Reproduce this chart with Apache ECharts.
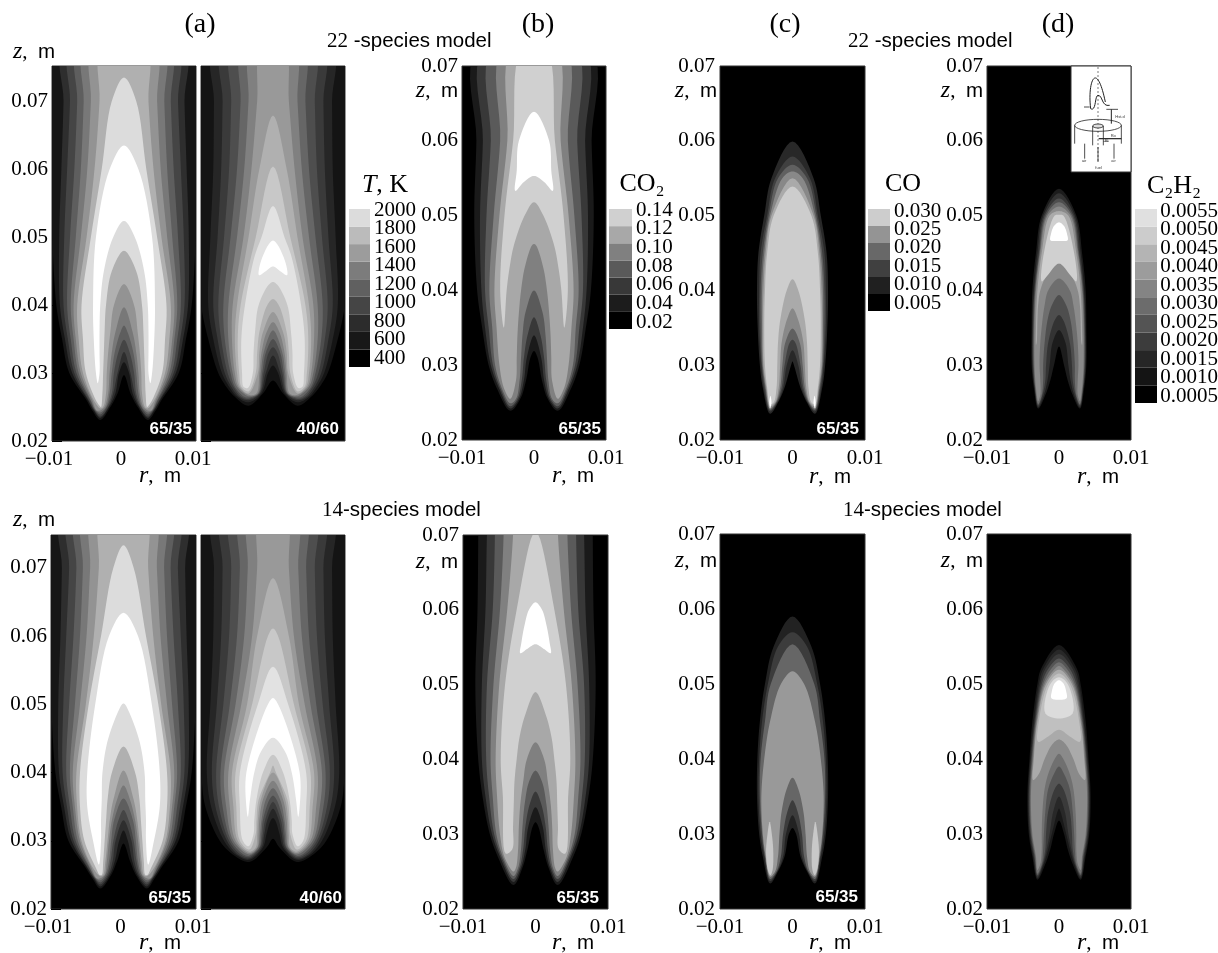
<!DOCTYPE html>
<html><head><meta charset="utf-8">
<style>html,body{margin:0;padding:0;background:#fff}#c{width:1218px;height:953px}</style>
<script src="https://cdn.jsdelivr.net/npm/echarts@6/dist/echarts.min.js"></script>
</head><body><div id="c"></div>
<script>
const n = null;
// All contours are half outlines in millimetres: [closed-top z, outer radii, lip [r,z], inner radii, inner apex z]
const tempPaletteA = ['#161616','#2e2e2e','#454545','#5e5e5e','#787878','#939393','#b0b0b0','#dcdcdc','#ffffff'];
const tempPaletteB = ['#141414','#262626','#3a3a3a','#4e4e4e','#666666','#808080','#999999','#b0b0b0','#c8c8c8','#e2e2e2','#ffffff'];
const co2Palette = ['#1a1a1a','#383838','#5a5a5a','#808080','#a8a8a8','#d0d0d0','#ffffff'];

const T22a_oz = [78,70,60,50,40,35,30,26,24.5];
const T22a_iz = [25,27,30,33,36,40,45,50];
const T22a = [
 [n,[11,11,10.6,10,9.4,8.6,7.6,5.2,4.4],[3.3,23.1],[1.9,.9],29.7],
 [n,[8.3,8.4,8.7,9,8.9,8.2,7.2,5,4.2],[3.3,23.4],[2.1,1.2,.7],31.6],
 [n,[7.3,7.5,7.9,8.3,8.4,7.8,6.9,4.9,4.1],[3.3,23.6],[2.2,1.5,.9],33.1],
 [n,[6.3,6.5,6.9,7.5,7.9,7.4,6.6,4.7,4],[3.3,23.9],[2.4,1.7,1.4,.8],34.9],
 [n,[5.4,5.6,6,6.7,7.4,7,6.3,4.6,3.9],[3.3,24.2],[2.5,2,1.7,1.3,.5],37],
 [n,[4.3,4.6,5.1,6,7,6.7,6,4.4,3.8],[3.3,24.5],[2.7,2.2,2,1.7,1.2],39.7],
 [n,[3.1,3.4,4.1,5.2,6.5,6.3,5.7,4.2],[3.3,24.8],[2.9,2.5,2.4,2.2,1.9,1.4],43.1],
 [73.5,[n,1.7,3.1,4.6,5.9,5.7,5.3,3.9],[3.4,25.2],[3.2,3,2.9,2.8,2.7,2.5,1.7],48],
 [63.5,[n,n,2,3.9,4.3,4.2,3.9,n],[3.65,28.5],[n,n,3.4,3.4,3.4,3.3,2.8,1.5],52.4]
];
const T22b_oz = [78,70,60,50,47,40,35,30,28,26.5];
const T22b_iz = [27,30,33,36,40,43,45];
const T22b = [
 [n,[11,11,11,11,n,10,9,7.6,6.5,5.3],[3.4,25.2],[1.4],28.9],
 [n,[8.1,8.2,8.3,8.7,n,9,8.3,7.1,6.1,5],[3.4,25.7],[1.6,.7],31.1],
 [n,[6.9,7,7.2,7.7,n,8.3,7.7,6.7,5.8,4.7],[3.4,26],[1.8,1],32.6],
 [n,[5.6,5.8,6.1,6.8,n,7.6,7.2,6.3,5.5,4.4],[3.4,26.2],[1.9,1.3,.6],33.8],
 [n,[4.2,4.5,5,5.9,n,6.9,6.7,5.9,5.3,4],[3.4,26.4],[2,1.5,1],35],
 [n,[3,3.4,4,5,n,6.2,6.2,5.6,5],[3.4,26.6],[2.1,1.7,1.3],36.3],
 [n,[1.6,2.2,3,4.1,n,5.6,5.7,5.3,4.8],[3.4,26.8],[2.3,1.9,1.6,.9],37.5],
 [67.9,[n,n,1.9,3.4,n,5,5.3,5,4.6],[3.4,27],[n,2.1,1.9,1.4],39],
 [60.4,[n,n,n,2.4,n,4.5,4.9,4.7,4.4],[3.4,27.3],[n,2.4,2.2,1.9,.8],40.9],
 [54.6,[n,n,n,1.6,2.6,3.9,4.4,4.3,4.1],[3.5,27.8],[n,2.8,2.7,2.5,2,.6],43.4],
 [49.5,[n,n,n,n,1.5],[1.95,44.4],[n,n,n,n,n,n,1],45.7]
];
const T14a_oz = [78,70,60,50,40,35,30,26,24.5];
const T14a_iz = [25,27,30,33,36,40,45,50];
const T14a = [
 [n,[11,11,10.6,10,9.4,8.6,7.6,5.2,4.3],[3.2,23],[1.7,.9],29.6],
 [n,[8.4,8.5,8.7,9,8.9,8.2,7.2,5,4.1],[3.2,23.3],[1.9,1.2,.6],31.5],
 [n,[7.4,7.5,7.9,8.3,8.4,7.8,6.9,4.9,4],[3.2,23.6],[2.1,1.5,1.1],33],
 [n,[6.4,6.5,6.9,7.5,7.9,7.4,6.6,4.7,3.9],[3.2,23.9],[2.3,1.8,1.4,.7],34.5],
 [n,[5.4,5.6,6,6.7,7.4,7,6.3,4.6,3.8],[3.2,24.2],[2.5,2,1.7,1.3],36.2],
 [n,[4.2,4.6,5.1,6,7,6.7,6,4.4,3.7],[3.2,24.5],[2.6,2.3,2,1.6,.9],38.1],
 [n,[3,3.4,4.1,5.2,6.5,6.4,5.8,4.2],[3.2,24.8],[2.8,2.5,2.2,1.9,1.4],40.3],
 [73.3,[n,1.4,3.1,4.8,6,6,5.4,3.8],[3.3,25],[3,2.8,2.6,2.4,2.2,1.6],43.8],
 [63.4,[n,n,2,3.9,5,5,4.2,n],[3.4,26.5],[n,n,3.1,3.1,3,2.9,2.1,.2],50.1]
];
const T14b_oz = [78,70,60,50,40,35,30,28];
const T14b_iz = [29,31,33,36,40,43];
const T14b = [
 [n,[11,11,11,11,10,9.4,7.4,5.6],[3.3,26.9],[.9],30.3],
 [n,[8.1,8.2,8.3,8.7,9.2,8.6,6.8,5.2],[3.3,27.2],[1.4,.9,.3],33.3],
 [n,[6.9,7,7.2,7.8,8.5,8,6.4,4.9],[3.3,27.4],[1.6,1.2,.8],34.7],
 [n,[5.7,5.8,6.1,6.9,7.9,7.5,6.1,4.5],[3.3,27.6],[1.8,1.4,1.1],35.7],
 [n,[4.4,4.6,5,6,7.3,7,5.8,4.1],[3.3,27.8],[1.9,1.6,1.4,.5],36.6],
 [n,[3.2,3.5,4,5.2,6.8,6.5,5.5],[3.3,28],[2.1,1.8,1.6,1],37.7],
 [n,[1.8,2.2,2.9,4.4,6.2,6,5.2],[3.3,28.2],[2.2,2,1.9,1.4],38.8],
 [68.5,[n,n,2.2,3.6,5.7,5.5,4.9],[3.3,28.4],[2.4,2.2,2.1,1.7],40],
 [61.1,[n,n,.7,2.9,5.2,5.1,4.6],[3.3,28.7],[n,2.4,2.3,2,.4],41],
 [55.5,[n,n,n,2.1,4.6,4.6,4.2],[3.4,29.2],[n,2.7,2.6,2.3,1.4],42.6],
 [50.9,[n,n,n,.7,3.7,3.7,n],[3.5,33.5],[n,n,n,3.2,2.6,1.7],45.1]
];
const CO2a_oz = [72,60,56,50,40,35,30,27];
const CO2a_iz = [25.5,28,31,34,37,40,43,46,50,54.5];
const CO2a = [
 [n,[7.9,8,n,8.3,7.9,7.2,6.3,5.2],[3.3,23.9],[1.9,1.1,.5],31.9],
 [n,[7,7.1,n,7.5,7.3,6.8,6,4.9],[3.3,24.2],[2.1,1.4,1],34],
 [n,[5.8,6,n,6.6,6.8,6.3,5.7,4.7],[3.3,24.5],[2.3,1.7,1.4,.9],36.4],
 [n,[4.4,4.7,n,5.6,6.2,5.8,5.4,4.5],[3.3,24.9],[2.5,2,1.8,1.6,1.2],40],
 [n,[3.1,3.7,n,4.8,5.5,5.2,4.8,4.2],[3.3,25.5],[n,2.5,2.4,2.3,2.1,1.8,1.3,.3],46.2],
 [n,[1.7,2.9,n,4.1,4.7,n,n,n],[4.2,35],[n,n,n,n,n,3.8,3.4,2.8,1.3],51.8],
 [63.9,[n,2.1,2.4],[2.6,53.3],[n,n,n,n,n,n,n,n,n,1.4],55.3]
];
const CO2b_oz = [72,70,60,50,40,35,30,27];
const CO2b_iz = [25.5,28,31,34,37,40,43,46];
const CO2b = [
 [n,[7.9,7.9,8,8.3,7.9,7.3,6.3,5.2],[3.05,23.2],[1.8,1.1,.4],31.6],
 [n,[6.6,6.7,6.9,7.4,7.4,6.9,6,4.9],[3.05,23.6],[2,1.4,1],33.6],
 [n,[5.6,5.6,5.9,6.7,6.8,6.4,5.7,4.7],[3.05,24],[2.2,1.7,1.4,.8],35.7],
 [n,[4.4,4.4,4.9,5.8,6.2,5.9,5.4,4.5],[3.05,24.4],[2.4,2,1.8,1.5,.9],38.5],
 [n,[3.1,3.1,3.9,5,5.5,5.3,4.9,4.3],[3.05,25],[2.7,2.4,2.3,2.1,1.7,1.2],42.3],
 [70.3,[n,.4,2.6,4.2,4.8,4.5,n,n],[4.1,27.4],[n,3.2,3.1,3,2.9,2.6,2.2,1.4],49]
];
const CO2b_cap = [[0,61],[.9,60],[1.5,58],[1.95,55.6],[2.1,54.2],[1.1,54.8],[0,55.4]];
const COa_palette = ['#282828','#404040','#606060','#888888','#aaaaaa','#cdcdcd'];
const COa_oz = [55,50,45,40,35,30,27];
const COa_iz = [25,27,30,33,36,40];
const COa = [
 [59.9,[2.9,3.9,4.7,4.9,4.8,4.5,4.1],[3.1,23.5],[2,1.1,.2],30.5],
 [57.9,[2.4,3.5,4.4,4.6,4.6,4.3,3.95],[3.1,23.8],[2.1,1.3,.8],32],
 [56.8,[2,3.3,4.1,4.4,4.4,4.2,3.8],[3.1,24],[2.2,1.5,1.1,.4],33.4],
 [55.9,[1.4,3.1,3.9,4.2,4.2,4.1,3.7],[3.1,24.2],[2.3,1.7,1.4,1],34.9],
 [55,[n,2.9,3.7,4,4.1,4,3.6],[3.1,24.5],[2.4,1.9,1.7,1.5,.8],37.6],
 [53.9,[n,2.6,3.5,3.8,3.9,3.8,3.5],[3.1,24.8],[2.6,2.2,2.1,2,1.7,.8],41.5]
];
const COa_tip = [[3.05,25.9],[3.2,25],[3.1,24.2],[2.9,25]];
const COb_palette = ['#222222','#3c3c3c','#666666','#999999'];
const COb_oz = [55,50,45,40,35,30,27];
const COb_iz = [25,27,30,33,36];
const COb = [
 [59,[2.6,3.8,4.5,4.85,4.9,4.6,4.1],[3.1,23.4],[2,1.1,.5],30.8],
 [56.9,[2,3.4,4.2,4.6,4.7,4.4,3.9],[3.1,23.7],[2.1,1.3,.9],32.5],
 [55.3,[n,3,3.8,4.4,4.5,4.2,3.8],[3.1,24],[2.2,1.6,1.3,.7],34.5],
 [51.7,[n,1.6,3.1,3.9,4.3,4.1,3.7],[3.1,24.3],[2.4,2,1.8,1.5,.8],37.5]
];
const COb_sliver = [[3.15,31.6],[3.45,30],[3.65,27.5],[3.4,25.2],[3.05,24.5],[2.75,25.2],[2.65,27.5],[2.85,30]];
const C2a_palette = ['#1c1c1c','#333333','#4e4e4e','#6e6e6e','#8a8a8a','#aaaaaa','#d0d0d0'];
const C2a_oz = [50,45,40,35,30,27];
const C2a_iz = [26,28,30,33,36,38,40,42];
const C2a = [
 [53.6,[2.4,3.2,3.7,3.8,3.8,3.5],[2.9,24.2],[1.9,1.2,.7],32.5],
 [53,[2.2,3,3.5,3.7,3.7,3.4],[2.9,24.4],[2.1,1.6,1.3,.9],34.7],
 [52.3,[2,2.8,3.4,3.6,3.6,3.35],[2.9,24.6],[2.3,1.9,1.8,1.5,.6],36.7],
 [51.8,[1.8,2.7,3.3,3.5,3.5,3.3],[2.9,24.8],[2.4,2.2,2.2,2,1.6,1],39.4],
 [51.2,[1.6,2.6,3.2,3.4,3.4,3.2],[2.9,25.2],[2.6,2.6,2.7,2.6,2.3,2,1.5],41.6],
 [50.6,[1.3,2.4,3,3.2],[3.2,32.7],[n,n,n,3.1,3,2.9,2.6,1.7],43.6],
 [50.1,[.6,2.1],[2.4,41.2],[n,n,n,n,n,n,n,1.6],43.6]
];
const C2a_cap = [[0,49.1],[.7,48.6],[1.1,47.6],[1.2,46.7],[.6,46.6],[0,46.6]];
const C2b_palette = ['#181818','#282828','#3a3a3a','#555555','#707070','#8a8a8a','#aaaaaa','#c0c0c0','#dcdcdc'];
const C2b_oz = [52,50,45,40,35,30,27];
const C2b_iz = [26,28,30,33,36,38,40,42,43];
const C2b = [
 [55.2,[2.5,3,3.7,4.1,4.4,4.2,3.7],[3,23.9],[1.9,1.2,.7],31.8],
 [54.6,[2.2,2.8,3.5,4,4.3,4.1,3.6],[3,24.1],[2.1,1.5,1,.2],33.4],
 [54,[1.9,2.6,3.4,3.9,4.2,4,3.5],[3,24.3],[2.2,1.7,1.3,.8],35],
 [53.4,[1.5,2.4,3.3,3.8,4.1,3.9,3.4],[3,24.5],[2.3,1.9,1.8,1.5,.6],36.7],
 [52.9,[1.1,2.2,3.2,3.7,4,3.8,3.3],[3,24.7],[2.4,2.2,2.1,1.9,1.5,.7],39],
 [52.4,[.6,2,3.1,3.6,3.9,3.7,3.2],[3,25.2],[2.6,2.4,2.4,2.3,2,1.5,.6],40.7],
 [51.9,[n,1.8,3,3.5],[3.6,37.2],[n,n,n,n,n,2.8,2,.9],42.6],
 [51.4,[n,1.5,2.8],[2.9,42.3],[n,n,n,n,n,n,n,n,1.5],43.9],
 [50.9,[n,1.2],[1.9,46.1],[],45.4]
];
const C2b_cap = [[0,50.5],[.6,50.1],[1,49],[1.05,48.1],[0,47.9]];

const zTicks = ['0.02','0.03','0.04','0.05','0.06','0.07'];
const tempLabels = ['400','600','800','1000','1200','1400','1600','1800','2000'];
const tempColors = ['#000000','#181818','#2c2c2c','#454545','#606060','#7c7c7c','#9c9c9c','#bbbbbb','#dcdcdc'];
const co2Labels = ['0.02','0.04','0.06','0.08','0.10','0.12','0.14'];
const co2Colors = ['#000000','#1c1c1c','#383838','#5a5a5a','#808080','#a8a8a8','#d0d0d0'];
const coLabels = ['0.005','0.010','0.015','0.020','0.025','0.030'];
const coColors = ['#000000','#202020','#404040','#686868','#949494','#cdcdcd'];
const c2Labels = ['0.0005','0.0010','0.0015','0.0020','0.0025','0.0030','0.0035','0.0040','0.0045','0.0050','0.0055'];
const c2Colors = ['#000000','#141414','#262626','#3c3c3c','#545454','#6c6c6c','#848484','#9c9c9c','#b4b4b4','#cccccc','#e0e0e0'];

const SERIF='"Liberation Serif",serif', SANS='"Liberation Sans",sans-serif';

function outline(level, oz, iz){
  const [top,o,lip,inn,apex]=level; const p=[];
  if(top!=null) p.push([0,top]);
  o.forEach((r,k)=>{ if(r!=null) p.push([r,oz[k]]); });
  p.push(lip);
  inn.forEach((r,k)=>{ if(r!=null) p.push([r,iz[k]]); });
  p.push([0,apex]);
  return p;
}
function mirrored(half){
  const out=half.slice();
  for(let i=half.length-1;i>=0;i--){ if(half[i][0]!==0) out.push([-half[i][0],half[i][1]]); }
  return out;
}
function spline(P){ // centripetal Catmull-Rom through pixel points (closed)
  const N=P.length, res=[], T=(a,b,t)=>t+Math.max(1e-3,Math.pow(Math.hypot(b[0]-a[0],b[1]-a[1]),.5));
  for(let i=0;i<N;i++){
    const p0=P[(i-1+N)%N],p1=P[i],p2=P[(i+1)%N],p3=P[(i+2)%N];
    const t0=0,t1=T(p0,p1,t0),t2=T(p1,p2,t1),t3=T(p2,p3,t2);
    for(let s=0;s<8;s++){
      const t=t1+(t2-t1)*s/8;
      const L=(a,b,ta,tb)=>[(tb-t)/(tb-ta)*a[0]+(t-ta)/(tb-ta)*b[0],(tb-t)/(tb-ta)*a[1]+(t-ta)/(tb-ta)*b[1]];
      const A1=L(p0,p1,t0,t1),A2=L(p1,p2,t1,t2),A3=L(p2,p3,t2,t3);
      const B1=L(A1,A2,t0,t2),B2=L(A2,A3,t1,t3);
      res.push(L(B1,B2,t1,t2));
    }
  }
  return res;
}

const grids=[],xAxes=[],yAxes=[],series=[];
function panel(cfg){
  const idx=grids.length;
  grids.push({left:cfg.x0,width:cfg.x1-cfg.x0,top:cfg.y0,height:cfg.y1-cfg.y0,show:true,backgroundColor:'#000',borderColor:'#333',borderWidth:1,containLabel:false});
  xAxes.push({type:'value',gridIndex:idx,min:-0.01,max:0.01,interval:0.01,
    axisLine:{show:false,onZero:false},axisTick:{show:false},splitLine:{show:false},
    axisLabel:{show:cfg.xl!==false,margin:8,padding:cfg.xpad||0,fontFamily:SERIF,fontSize:21,color:'#000',hideOverlap:false,showMinLabel:true,showMaxLabel:true,
      formatter:v=>Math.abs(v)<1e-9?'0':(v<0?'\u22120.01':'0.01')}});
  yAxes.push({type:'value',gridIndex:idx,min:0.02,max:cfg.zmax,interval:0.01,
    axisLine:{show:false,onZero:false},splitLine:{show:false},
    axisTick:{show:cfg.ticks===true,inside:true,length:10,lineStyle:{color:'#000',width:1}},
    axisLabel:{show:cfg.yl!==false,margin:cfg.ym||4,fontFamily:SERIF,fontSize:21,color:'#000',showMaxLabel:cfg.zmax<=0.07,
      formatter:v=>{const s=v.toFixed(2);return zTicks.includes(s)?s:'';}}});
  const shapes=cfg.levels.map((lv,i)=>({color:cfg.colors[i],pts:mirrored(outline(lv,cfg.oz,cfg.iz))}));
  (cfg.extras||[]).forEach(e=>{ shapes.push({color:e[0],pts:mirrored(e[1])}); });
  (cfg.sides||[]).forEach(e=>{
    shapes.push({color:e[0],pts:e[1]});
    shapes.push({color:e[0],pts:e[1].map(p=>[-p[0],p[1]])});
  });
  series.push({type:'custom',xAxisIndex:idx,yAxisIndex:idx,coordinateSystem:'cartesian2d',clip:true,silent:true,
    data:shapes.map((s,i)=>[i]),
    renderItem:(params,api)=>{
      const s=shapes[params.dataIndex];
      const px=s.pts.map(p=>api.coord([p[0]/1000,p[1]/1000]));
      return {type:'polygon',shape:{points:spline(px)},style:{fill:s.color}};
    }});
}
function colorbar(x0,x1,y0,y1,l0,l1,labels,colors){
  let idx=grids.length;
  grids.push({left:x0,width:x1-x0,top:y0,height:y1-y0});
  xAxes.push({type:'value',gridIndex:idx,min:0,max:1,show:false});
  yAxes.push({type:'category',gridIndex:idx,data:labels,axisLine:{show:false},axisTick:{show:false},axisLabel:{show:false}});
  series.push({type:'bar',xAxisIndex:idx,yAxisIndex:idx,barWidth:'100%',silent:true,
    data:labels.map((_,i)=>({value:1,itemStyle:{color:colors[i]}}))});
  idx=grids.length;
  const step=(l1-l0)/(labels.length-1);
  grids.push({left:x1-1,width:1,top:l0-step/2,height:l1-l0+step});
  xAxes.push({type:'value',gridIndex:idx,min:0,max:1,show:false});
  yAxes.push({type:'category',gridIndex:idx,position:'right',data:labels,axisLine:{show:false},axisTick:{show:false},
    axisLabel:{margin:4,interval:0,fontFamily:SERIF,fontSize:21,color:'#000'}});
}

panel({x0:52,x1:196,y0:66,y1:441,zmax:0.0752,levels:T22a,colors:tempPaletteA,oz:T22a_oz,iz:T22a_iz,ticks:true,xpad:[0,6,0,0]});
panel({x0:201,x1:345,y0:66,y1:441,zmax:0.0752,levels:T22b,colors:tempPaletteB,oz:T22b_oz,iz:T22b_iz,xl:false,yl:false,ticks:true});
panel({x0:462,x1:606,y0:66,y1:440,zmax:0.07,levels:CO2a,colors:co2Palette,oz:CO2a_oz,iz:CO2a_iz});
panel({x0:720,x1:865,y0:66,y1:440,zmax:0.07,levels:COa,colors:COa_palette,oz:COa_oz,iz:COa_iz,ym:5,sides:[['#ffffff',COa_tip]]});
panel({x0:987,x1:1131,y0:66,y1:440,zmax:0.07,levels:C2a,colors:C2a_palette,oz:C2a_oz,iz:C2a_iz,extras:[['#ffffff',C2a_cap]]});
panel({x0:51,x1:196,y0:535,y1:909,zmax:0.0748,levels:T14a,colors:tempPaletteA,oz:T14a_oz,iz:T14a_iz,ticks:true,xpad:[0,6,0,0]});
panel({x0:201,x1:345,y0:535,y1:909,zmax:0.0748,levels:T14b,colors:tempPaletteB,oz:T14b_oz,iz:T14b_iz,xl:false,yl:false,ticks:true});
panel({x0:463,x1:608,y0:535,y1:909,zmax:0.07,levels:CO2b,colors:co2Palette,oz:CO2b_oz,iz:CO2b_iz,extras:[['#ffffff',CO2b_cap]]});
panel({x0:720,x1:865,y0:534,y1:909,zmax:0.07,levels:COb,colors:COb_palette,oz:COb_oz,iz:COb_iz,ym:5,sides:[['#c8c8c8',COb_sliver]]});
panel({x0:987,x1:1131,y0:534,y1:909,zmax:0.07,levels:C2b,colors:C2b_palette,oz:C2b_oz,iz:C2b_iz,extras:[['#ffffff',C2b_cap]]});

colorbar(349,370,209,367,210,358,tempLabels,tempColors);
colorbar(609,632,209,329,210,322,co2Labels,co2Colors);
colorbar(868,890,209,311,211,303,coLabels,coColors);
colorbar(1135,1157,209,403,211,396,c2Labels,c2Colors);

const rich={
  i:{fontFamily:SERIF,fontStyle:'italic',fontSize:24,fill:'#000',color:'#000'},
  t:{fontFamily:SANS,fontSize:20.5,fill:'#000',color:'#000'},
  n:{fontFamily:SERIF,fontSize:21,fill:'#000',color:'#000'},
  I:{fontFamily:SERIF,fontStyle:'italic',fontSize:26,fill:'#000',color:'#000'},
  N:{fontFamily:SERIF,fontSize:26,fill:'#000',color:'#000'}
};
function T(x,y,text,align,extra){
  return {type:'text',x:x,y:y,silent:true,style:Object.assign({text:text,textAlign:align||'center',textVerticalAlign:'middle',rich:rich,fill:'#000'},extra||{})};
}
const zLabel='{i|z}{n|,\u00a0\u00a0}{t|m}', rLabel='{i|r}{n|,\u00a0\u00a0}{t|m}';
const graphics=[
  T(200,25,'(a)','center',{font:'28px '+SERIF}),T(538,25,'(b)','center',{font:'28px '+SERIF}),
  T(785,25,'(c)','center',{font:'28px '+SERIF}),T(1058,25,'(d)','center',{font:'28px '+SERIF}),
  T(327,41,'{n|22}{t|\u00a0-species model}','left'),T(848,41,'{n|22}{t|\u00a0-species model}','left'),
  T(322,510,'{n|14}{t|-species model}','left'),T(843,510,'{n|14}{t|-species model}','left'),
  T(13,52,zLabel,'left'),T(13,520,zLabel,'left'),
  T(458,91,zLabel,'right'),T(717,91,zLabel,'right'),T(983,91,zLabel,'right'),
  T(458,562,zLabel,'right'),T(717,561,zLabel,'right'),T(983,561,zLabel,'right'),
  T(160,476,rLabel),T(573,476,rLabel),T(830,477,rLabel),T(1098,477,rLabel),
  T(160,943,rLabel),T(573,943,rLabel),T(830,943,rLabel),T(1098,943,rLabel),
  T(385,185,'{I|T}{N|,\u00a0K}'),T(642,184,'{N|CO\u2082}'),T(903,184,'{N|CO}'),T(1174,186,'{N|C\u2082H\u2082}')
];
[[192,429],[339,429],[601,429],[859,429],[191,898],[342,898],[599,898],[858,897]].forEach((p,i)=>{
  graphics.push(T(p[0],p[1],i===1||i===5?'40/60':'65/35','right',{font:'bold 17px '+SANS,fill:'#fff'}));
});
// small schematic inset in panel (d)
const X=v=>1068+v/3,Y=v=>62+v/3,L=(a,b,c,d,w,dash)=>({type:'line',silent:true,shape:{x1:X(a),y1:Y(b),x2:X(c),y2:Y(d)},style:{stroke:'#222',lineWidth:w||0.8,lineDash:dash||null}});
const inset=[
  {type:'rect',silent:true,shape:{x:1071,y:66,width:60,height:106},style:{fill:'#fff',stroke:'#333',lineWidth:1}},
  L(90,15,90,300,.6,[2,2]),
  {type:'bezierCurve',silent:true,shape:{x1:X(68),y1:Y(140),cpx1:X(58),cpy1:Y(60),cpx2:X(85),cpy2:Y(-10),x2:X(112),y2:Y(120)},style:{stroke:'#222',fill:null,lineWidth:1}},
  {type:'bezierCurve',silent:true,shape:{x1:X(68),y1:Y(140),cpx1:X(85),cpy1:Y(150),cpx2:X(80),cpy2:Y(100),x2:X(90),y2:Y(100)},style:{stroke:'#222',fill:null,lineWidth:1}},
  {type:'bezierCurve',silent:true,shape:{x1:X(90),y1:Y(100),cpx1:X(105),cpy1:Y(100),cpx2:X(100),cpy2:Y(135),x2:X(125),y2:Y(130)},style:{stroke:'#222',fill:null,lineWidth:1}},
  L(48,135,65,135),L(115,142,150,142),L(130,142,130,185,1),
  {type:'ellipse',silent:true,shape:{cx:X(90),cy:Y(190),rx:70/3,ry:18/3},style:{stroke:'#222',fill:null,lineWidth:.8}},
  {type:'ellipse',silent:true,shape:{cx:X(90),cy:Y(192),rx:16/3,ry:6/3},style:{stroke:'#222',fill:'#ddd',lineWidth:.8}},
  L(20,190,20,245),L(160,190,160,245),L(74,192,74,250),L(106,192,106,250),
  L(92,230,160,230,1.2),L(106,238,122,238,.6),
  L(50,290,50,245),L(90,300,90,255),L(138,290,138,245),
  {type:'text',silent:true,x:X(142),y:Y(158),style:{text:'Hst.d',font:'4px '+SANS,fill:'#333'}},
  {type:'text',silent:true,x:X(128),y:Y(215),style:{text:'Ro',font:'4px '+SANS,fill:'#333'}},
  {type:'text',silent:true,x:X(110),y:Y(232),style:{text:'Ri',font:'4px '+SANS,fill:'#333'}},
  {type:'text',silent:true,x:X(42),y:Y(292),style:{text:'air',font:'4px '+SANS,fill:'#333'}},
  {type:'text',silent:true,x:X(82),y:Y(312),style:{text:'fuel',font:'4px '+SANS,fill:'#333'}},
  {type:'text',silent:true,x:X(130),y:Y(292),style:{text:'air',font:'4px '+SANS,fill:'#333'}}
];
const chart=echarts.init(document.getElementById('c'),null,{renderer:'canvas',width:1218,height:953});
chart.setOption({animation:false,backgroundColor:'#fff',grid:grids,xAxis:xAxes,yAxis:yAxes,series:series,
  graphic:{elements:graphics.concat(inset.map(e=>Object.assign({z:100},e)))}});
</script></body></html>
